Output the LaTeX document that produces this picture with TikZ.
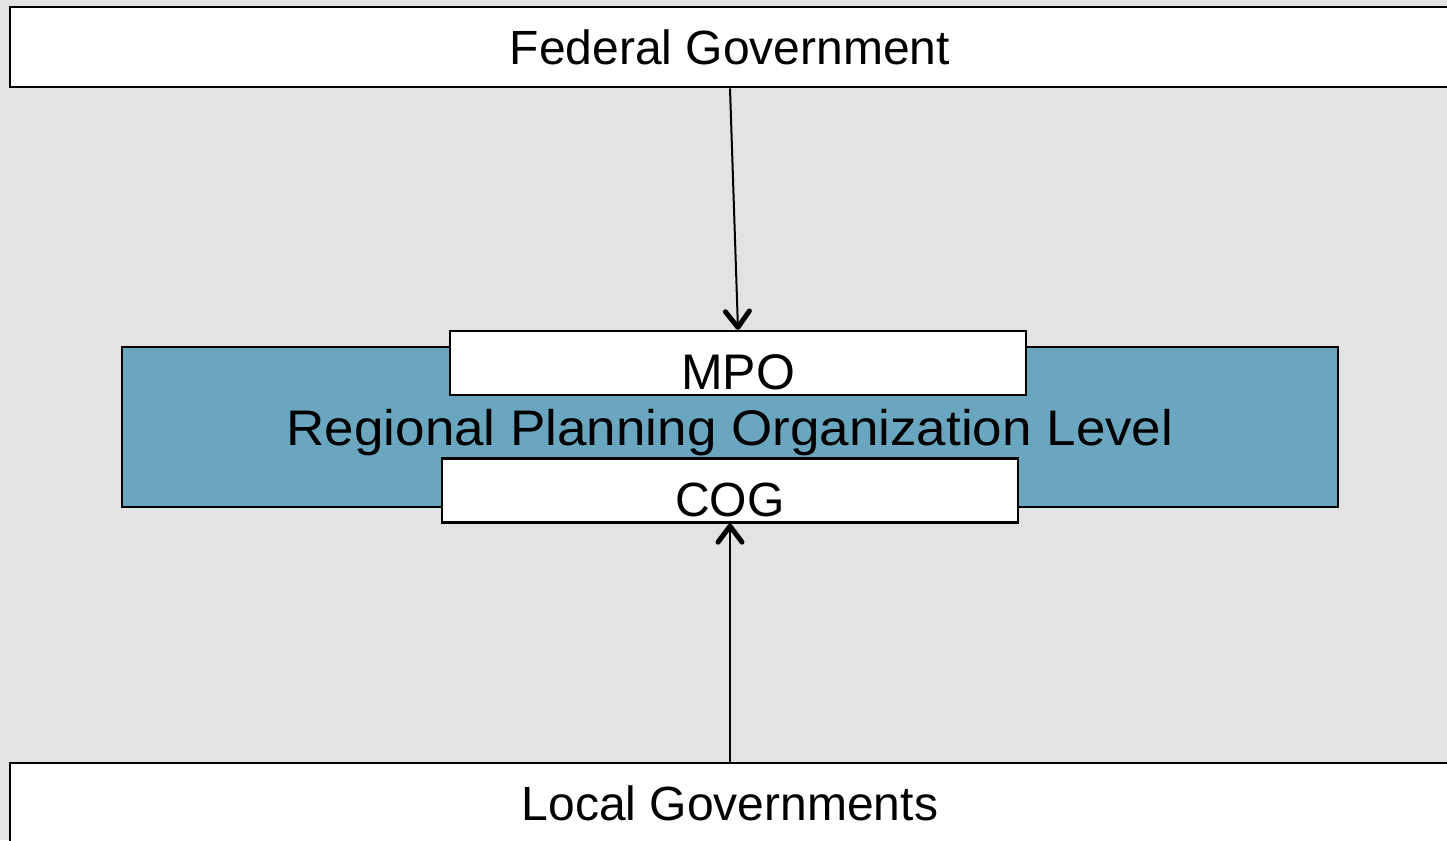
\documentclass[tikz,border=0pt]{standalone}
\usepackage{fontspec}
\setmainfont{Liberation Sans}
\usetikzlibrary{arrows.meta}

\definecolor{slidegray}{HTML}{E3E3E3}
\definecolor{levelblue}{HTML}{6AA6C0}

\begin{document}
\begin{tikzpicture}[x=1pt,y=-1pt,
	govbox/.style={draw, line width=2.6pt, fill=white, minimum width=1440pt, minimum height=80pt, inner sep=0pt},
	orgbox/.style={draw, line width=2.3pt, fill=white, minimum width=576pt, minimum height=64pt, inner sep=0pt, text depth=0pt},
	levelbox/.style={draw, line width=2.2pt, fill=levelblue, minimum width=1216pt, minimum height=160pt, inner sep=0pt, text depth=0pt},
	link/.style={line width=2pt, -{Straight Barb[length=16pt,width=24pt,line width=5pt,round]}}]
	\useasboundingbox[fill=slidegray] (0,0) rectangle (1447,840);
	\clip (0,0) rectangle (1447,840);
	% the three levels
	\node[govbox, font=\fontsize{48}{50}\selectfont] (federal) at (730,47) {Federal Government};
	\node[govbox, font=\fontsize{48}{50}\selectfont] (local) at (730,803) {Local Governments};
	\node[levelbox, font=\fontsize{50}{54}\selectfont, text height=36pt] (region) at (730,427)
		{\scalebox{1.06}[1]{Regional Planning Organization Level}};
	\node[orgbox, font=\fontsize{50}{52}\selectfont, text height=52pt] (mpo) at (738,363) {MPO};
	\node[orgbox, font=\fontsize{48}{52}\selectfont, text height=51pt] (cog) at (730,490.5) {COG};
	% links
	\draw[link] (federal.south) -- (mpo.north);
	\draw[link] (local.north) -- (cog.south);
\end{tikzpicture}
\end{document}
